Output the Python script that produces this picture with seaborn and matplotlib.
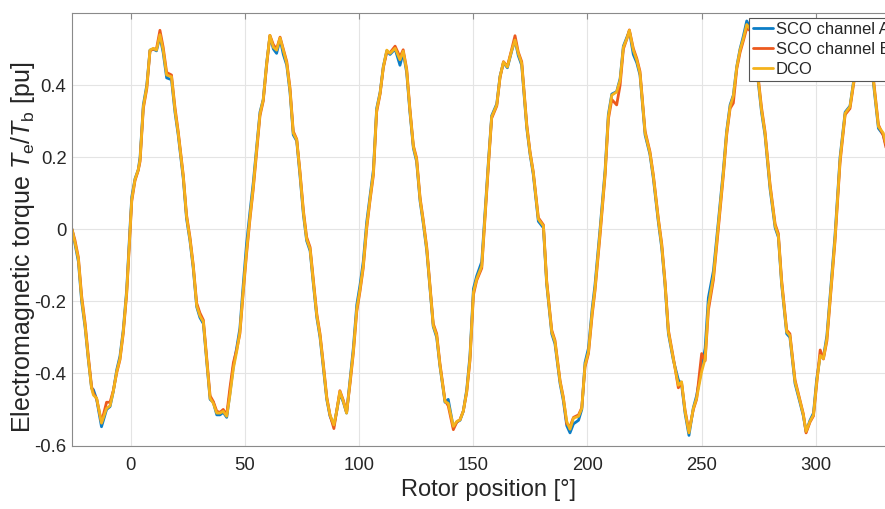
import matplotlib
matplotlib.use("Agg")
import matplotlib.pyplot as plt
import numpy as np
import pandas as pd
import seaborn as sns

# ---------------- data ----------------
rotor_pos = [-25.7, -24.42, -22.90, -21.48, -19.97, -18.55, -17.13, -16.33, -14.91, -12.78,
             -10.56, -9.04, -7.62, -6.11, -4.69, -3.27, -1.76, -0.34, 0.47, 1.89,
             3.30, 4.11, 5.53, 7.05, 8.46, 9.88, 11.29, 12.81, 14.23, 15.75,
             17.87, 19.39, 20.80, 23.03, 24.45, 25.96, 27.38, 28.90, 30.31, 31.83,
             33.25, 34.77, 36.18, 37.70, 39.12, 40.53, 42.05, 43.47, 44.98, 46.40,
             47.82, 49.33, 50.75, 52.27, 53.69, 55.20, 56.62, 58.04, 59.55, 60.97,
             62.49, 63.90, 65.42, 66.84, 68.35, 69.77, 71.19, 72.71, 74.12, 75.64,
             77.06, 78.57, 79.99, 81.51, 82.92, 84.34, 85.86, 87.27, 88.99, 90.21,
             91.62, 93.14, 94.56, 96.08, 97.49, 99.01, 100.43, 101.84, 103.36, 104.78,
             106.29, 107.71, 109.23, 110.64, 112.16, 113.58, 115.80, 117.93, 119.34, 120.86,
             122.28, 123.80, 125.21, 126.73, 128.15, 129.66, 131.08, 132.50, 134.01, 135.43,
             137.65, 139.07, 141.30, 142.82, 144.23, 145.65, 147.16, 148.58, 150.10, 151.52,
             153.74, 155.16, 156.68, 158.09, 160.32, 161.74, 163.25, 164.97, 166.89, 168.31,
             169.73, 171.24, 173.47, 174.89, 176.30, 178.53, 180.75, 182.17, 184.40, 185.81,
             188.04, 189.45, 190.97, 192.39, 193.91, 196.13, 197.55, 198.96, 200.48, 202.10,
             203.32, 205.54, 207.77, 209.18, 210.70, 212.83, 214.34, 215.76, 217.28, 218.39,
             220.11, 221.63, 223.04, 225.27, 227.39, 228.91, 231.04, 232.56, 233.97, 235.49,
             237.61, 239.84, 241.25, 242.77, 244.49, 246.41, 247.83, 250.05, 251.57, 252.99,
             255.21, 257.34, 259.56, 260.98, 262.50, 263.92, 265.43, 266.85, 268.27, 269.79,
             271.91, 273.43, 274.84, 276.26, 277.78, 280.00, 282.23, 283.64, 285.06, 287.29,
             288.70, 290.93, 293.15, 294.57, 295.78, 297.50, 299.02, 300.44, 301.96, 303.37,
             304.89, 306.31, 308.43, 310.66, 312.88, 315.01, 316.52, 318.45, 320.47, 322.49,
             324.01, 325.23, 327.46, 329.58, 331.09]

sco_a = [0.0, -0.04, -0.09, -0.2, -0.272, -0.362, -0.441, -0.445, -0.472, -0.548,
         -0.5, -0.492, -0.45, -0.39, -0.352, -0.28, -0.168, 0.0, 0.09, 0.14,
         0.165, 0.2, 0.345, 0.4, 0.497, 0.5, 0.495, 0.535, 0.49, 0.42,
         0.415, 0.325, 0.262, 0.14, 0.03, -0.032, -0.108, -0.215, -0.245, -0.262,
         -0.365, -0.472, -0.48, -0.515, -0.515, -0.508, -0.522, -0.455, -0.38, -0.33,
         -0.275, -0.15, -0.04, 0.05, 0.13, 0.232, 0.325, 0.36, 0.462, 0.535,
         0.5, 0.488, 0.528, 0.485, 0.455, 0.38, 0.262, 0.245, 0.15, 0.04,
         -0.032, -0.06, -0.152, -0.245, -0.3, -0.382, -0.472, -0.518, -0.545, -0.505,
         -0.455, -0.48, -0.51, -0.418, -0.33, -0.21, -0.155, -0.09, 0.02, 0.09,
         0.165, 0.335, 0.38, 0.452, 0.495, 0.485, 0.5, 0.455, 0.49, 0.435,
         0.325, 0.225, 0.188, 0.078, 0.015, -0.06, -0.165, -0.27, -0.3, -0.38,
         -0.48, -0.472, -0.55, -0.535, -0.53, -0.505, -0.445, -0.35, -0.165, -0.13,
         -0.09, 0.045, 0.19, 0.315, 0.348, 0.425, 0.462, 0.448, 0.495, 0.525,
         0.482, 0.455, 0.28, 0.208, 0.152, 0.022, 0.004, -0.152, -0.29, -0.318,
         -0.428, -0.475, -0.545, -0.565, -0.54, -0.53, -0.5, -0.37, -0.33, -0.22,
         -0.155, 0.0, 0.165, 0.318, 0.375, 0.382, 0.418, 0.508, 0.532, 0.55,
         0.485, 0.462, 0.428, 0.262, 0.208, 0.14, 0.022, -0.052, -0.152, -0.29,
         -0.362, -0.418, -0.43, -0.51, -0.572, -0.495, -0.462, -0.385, -0.33, -0.19,
         -0.115, 0.02, 0.165, 0.272, 0.345, 0.372, 0.452, 0.5, 0.535, 0.578,
         0.552, 0.475, 0.408, 0.325, 0.262, 0.112, 0.004, -0.022, -0.152, -0.29,
         -0.3, -0.428, -0.482, -0.518, -0.562, -0.53, -0.51, -0.415, -0.352, -0.355,
         -0.295, -0.185, -0.018, 0.2, 0.325, 0.342, 0.408, 0.472, 0.532, 0.518,
         0.465, 0.408, 0.28, 0.262, 0.225]

sco_b = [0.0, -0.03, -0.078, -0.185, -0.26, -0.352, -0.436, -0.455, -0.47, -0.535,
         -0.48, -0.48, -0.448, -0.398, -0.362, -0.29, -0.18, -0.015, 0.078, 0.135,
         0.163, 0.188, 0.335, 0.39, 0.495, 0.5, 0.5, 0.552, 0.505, 0.435,
         0.428, 0.338, 0.272, 0.15, 0.04, -0.022, -0.098, -0.205, -0.232, -0.252,
         -0.352, -0.462, -0.478, -0.505, -0.508, -0.5, -0.515, -0.44, -0.37, -0.335,
         -0.29, -0.172, -0.068, 0.03, 0.112, 0.218, 0.315, 0.355, 0.455, 0.538,
         0.512, 0.5, 0.533, 0.5, 0.465, 0.392, 0.272, 0.25, 0.162, 0.052,
         -0.022, -0.05, -0.14, -0.235, -0.29, -0.372, -0.465, -0.515, -0.553, -0.505,
         -0.448, -0.475, -0.508, -0.428, -0.345, -0.228, -0.172, -0.108, 0.002, 0.078,
         0.15, 0.325, 0.375, 0.448, 0.492, 0.49, 0.508, 0.478, 0.498, 0.445,
         0.335, 0.232, 0.198, 0.088, 0.025, -0.05, -0.155, -0.262, -0.29, -0.372,
         -0.475, -0.49, -0.556, -0.535, -0.528, -0.505, -0.452, -0.365, -0.182, -0.142,
         -0.108, 0.03, 0.178, 0.308, 0.342, 0.42, 0.465, 0.452, 0.5, 0.537,
         0.492, 0.465, 0.29, 0.215, 0.16, 0.032, 0.012, -0.142, -0.28, -0.308,
         -0.42, -0.465, -0.54, -0.548, -0.522, -0.515, -0.495, -0.382, -0.345, -0.238,
         -0.172, -0.018, 0.15, 0.305, 0.36, 0.345, 0.4, 0.5, 0.528, 0.553,
         0.502, 0.474, 0.438, 0.272, 0.216, 0.15, 0.032, -0.04, -0.142, -0.28,
         -0.355, -0.44, -0.425, -0.502, -0.56, -0.5, -0.472, -0.345, -0.365, -0.225,
         -0.14, 0.0, 0.15, 0.26, 0.335, 0.35, 0.445, 0.49, 0.522, 0.558,
         0.548, 0.485, 0.42, 0.338, 0.272, 0.125, 0.014, -0.012, -0.14, -0.28,
         -0.29, -0.418, -0.475, -0.512, -0.565, -0.535, -0.518, -0.428, -0.335, -0.36,
         -0.31, -0.2, -0.035, 0.185, 0.318, 0.335, 0.4, 0.468, 0.528, 0.522,
         0.475, 0.42, 0.29, 0.26, 0.218]

dco = [0.0, -0.036, -0.083, -0.193, -0.267, -0.359, -0.441, -0.46, -0.469, -0.538,
       -0.497, -0.49, -0.45, -0.395, -0.359, -0.285, -0.175, -0.01, 0.083, 0.138,
       0.165, 0.193, 0.34, 0.395, 0.497, 0.502, 0.497, 0.54, 0.497, 0.428,
       0.423, 0.331, 0.267, 0.146, 0.036, -0.028, -0.102, -0.212, -0.24, -0.257,
       -0.359, -0.469, -0.483, -0.51, -0.51, -0.505, -0.519, -0.46, -0.386, -0.34,
       -0.285, -0.166, -0.06, 0.036, 0.119, 0.225, 0.32, 0.359, 0.46, 0.538,
       0.505, 0.497, 0.531, 0.497, 0.46, 0.386, 0.267, 0.248, 0.157, 0.046,
       -0.028, -0.055, -0.147, -0.24, -0.295, -0.377, -0.469, -0.515, -0.543, -0.505,
       -0.45, -0.478, -0.51, -0.423, -0.34, -0.221, -0.166, -0.102, 0.009, 0.083,
       0.157, 0.331, 0.378, 0.45, 0.497, 0.488, 0.502, 0.47, 0.494, 0.441,
       0.33, 0.229, 0.193, 0.083, 0.02, -0.055, -0.16, -0.267, -0.295, -0.377,
       -0.478, -0.483, -0.547, -0.533, -0.529, -0.505, -0.45, -0.359, -0.175, -0.138,
       -0.102, 0.036, 0.184, 0.312, 0.345, 0.423, 0.464, 0.45, 0.497, 0.525,
       0.488, 0.46, 0.285, 0.212, 0.157, 0.028, 0.009, -0.147, -0.285, -0.312,
       -0.423, -0.469, -0.533, -0.555, -0.524, -0.519, -0.497, -0.377, -0.34, -0.23,
       -0.166, -0.009, 0.157, 0.312, 0.372, 0.381, 0.414, 0.505, 0.529, 0.552,
       0.497, 0.469, 0.433, 0.267, 0.212, 0.146, 0.028, -0.046, -0.147, -0.285,
       -0.359, -0.433, -0.423, -0.505, -0.565, -0.497, -0.469, -0.395, -0.359, -0.212,
       -0.13, 0.009, 0.157, 0.267, 0.34, 0.37, 0.45, 0.497, 0.528, 0.568,
       0.55, 0.48, 0.414, 0.331, 0.267, 0.119, 0.009, -0.018, -0.147, -0.285,
       -0.295, -0.423, -0.478, -0.515, -0.561, -0.533, -0.515, -0.423, -0.35, -0.359,
       -0.303, -0.193, -0.028, 0.193, 0.322, 0.34, 0.405, 0.47, 0.53, 0.52,
       0.47, 0.414, 0.285, 0.267, 0.23]

series_names = ["SCO channel A", "SCO channel B", "DCO"]
series_colors = ["#0b7dc6", "#ec5a1e", "#f4b21c"]
x_ticks = [0, 50, 100, 150, 200, 250, 300]
x_tick_labels = ["0", "50", "100", "150", "200", "250", "300"]
y_ticks = [-0.6, -0.4, -0.2, 0.0, 0.2, 0.4]
y_tick_labels = ["-0.6", "-0.4", "-0.2", "0", "0.2", "0.4"]

# ---------------- figure ----------------
sns.set_theme(style="white")
plt.rcParams['font.family'] = ['Liberation Sans', 'DejaVu Sans']
plt.rcParams['mathtext.fontset'] = 'custom'
plt.rcParams['mathtext.rm'] = 'Liberation Sans'
plt.rcParams['mathtext.it'] = 'Liberation Sans:italic'

W, H = 885, 509
fig = plt.figure(figsize=(W / 100, H / 100), dpi=100)
ax_left, ax_right, ax_top, ax_bot = 72, 905, 13, 445.5
ax = fig.add_axes([ax_left / W, 1 - ax_bot / H, (ax_right - ax_left) / W, (ax_bot - ax_top) / H])

frames = []
for name, vals in zip(series_names, [sco_a, sco_b, dco]):
    frames.append(pd.DataFrame({"pos": rotor_pos, "torque": vals, "series": name}))
df = pd.concat(frames, ignore_index=True)

sns.lineplot(data=df, x="pos", y="torque", hue="series", hue_order=series_names,
             palette=series_colors, estimator=None, sort=False, linewidth=2.0, ax=ax)
for line in ax.get_lines():
    line.set_solid_joinstyle("round")
    line.set_solid_capstyle("round")

ax.set_xlim(-25.7, 339.1)
ax.set_ylim(-0.6, 0.6)
ax.set_xticks(x_ticks)
ax.set_xticklabels(x_tick_labels)
ax.set_yticks(y_ticks)
ax.set_yticklabels(y_tick_labels)
ax.grid(True, color="#e4e4e4", linewidth=0.8)
ax.set_axisbelow(True)
for sp in ax.spines.values():
    sp.set_color("#8a8a8a")
    sp.set_linewidth(0.8)
ax.tick_params(direction="in", length=4, width=0.8, color="#8a8a8a",
               labelcolor="#262626", labelsize=13.3, top=True, right=True)
ax.tick_params(axis="x", pad=8)
ax.tick_params(axis="y", pad=4)

ax.set_xlabel("Rotor position [°]", fontsize=17, color="#262626")
ax.set_ylabel(r"Electromagnetic torque $\mathit{T}_\mathrm{e}/\mathit{T}_\mathrm{b}$ [pu]",
              fontsize=18, color="#262626")
ax.xaxis.set_label_coords(0.5, -0.078)
ax.yaxis.set_label_coords(-0.042, 0.457)

handles, labels = ax.get_legend_handles_labels()
if ax.get_legend() is not None:
    ax.get_legend().remove()
leg = fig.legend(handles, labels, loc="upper left",
                 bbox_to_anchor=(749 / W, 1 - 18 / H), bbox_transform=fig.transFigure,
                 fontsize=12, frameon=True, fancybox=False, borderaxespad=0,
                 handlelength=1.2, handletextpad=0.15, borderpad=0.25,
                 labelspacing=0.3)
leg.get_frame().set_edgecolor("#555555")
leg.get_frame().set_linewidth(0.8)
leg.get_frame().set_alpha(1.0)
for line in leg.get_lines():
    line.set_linewidth(2.0)

fig.savefig("out.png", dpi=100)
